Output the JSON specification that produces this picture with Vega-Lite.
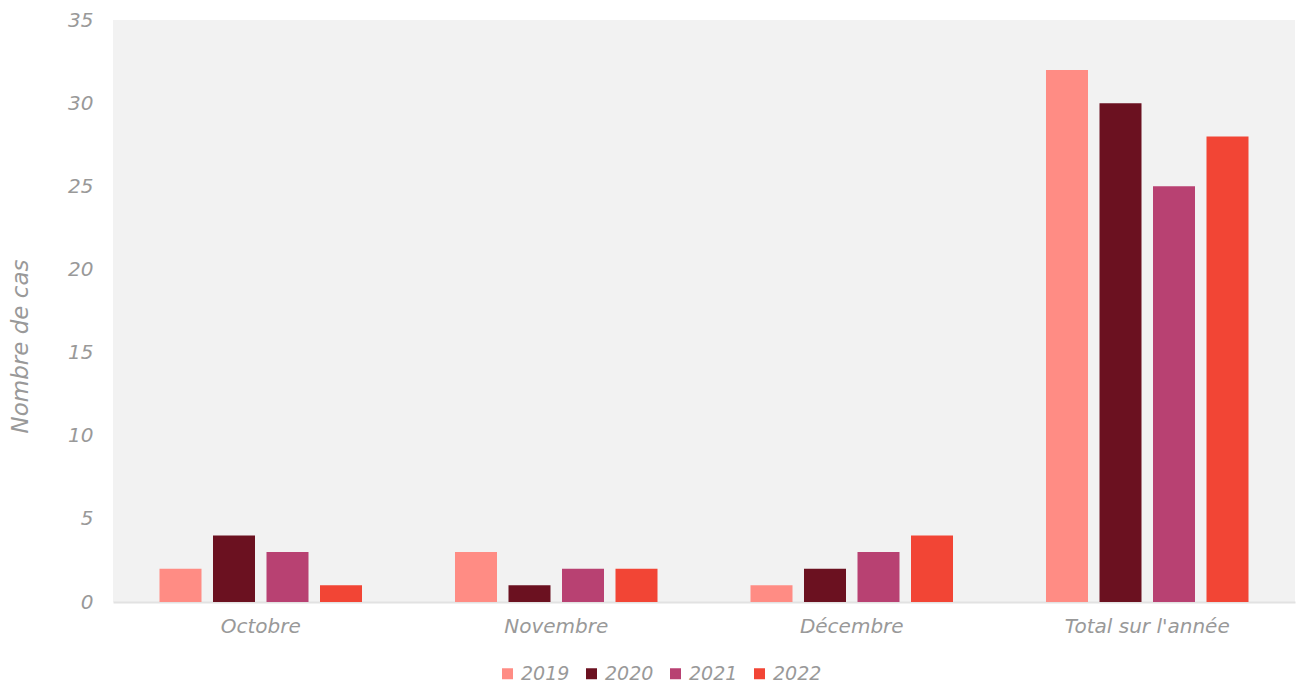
{
  "$schema": "https://vega.github.io/schema/vega-lite/v6.json",
  "width": 1182,
  "height": 582,
  "autosize": "none",
  "padding": {"left": 113, "top": 20, "right": 3, "bottom": 82},
  "background": "white",
  "config": {
    "view": {"fill": "#f2f2f2", "stroke": null},
    "font": "DejaVu Sans"
  },
  "data": {
    "values": [
      {"mois": "Octobre", "annee": "2019", "cas": 2},
      {"mois": "Octobre", "annee": "2020", "cas": 4},
      {"mois": "Octobre", "annee": "2021", "cas": 3},
      {"mois": "Octobre", "annee": "2022", "cas": 1},
      {"mois": "Novembre", "annee": "2019", "cas": 3},
      {"mois": "Novembre", "annee": "2020", "cas": 1},
      {"mois": "Novembre", "annee": "2021", "cas": 2},
      {"mois": "Novembre", "annee": "2022", "cas": 2},
      {"mois": "Décembre", "annee": "2019", "cas": 1},
      {"mois": "Décembre", "annee": "2020", "cas": 2},
      {"mois": "Décembre", "annee": "2021", "cas": 3},
      {"mois": "Décembre", "annee": "2022", "cas": 4},
      {"mois": "Total sur l'année", "annee": "2019", "cas": 32},
      {"mois": "Total sur l'année", "annee": "2020", "cas": 30},
      {"mois": "Total sur l'année", "annee": "2021", "cas": 25},
      {"mois": "Total sur l'année", "annee": "2022", "cas": 28}
    ]
  },
  "mark": {"type": "bar"},
  "encoding": {
    "x": {
      "field": "mois", "type": "nominal",
      "sort": ["Octobre", "Novembre", "Décembre", "Total sur l'année"],
      "scale": {"paddingInner": 0, "paddingOuter": 0},
      "axis": {
        "title": null, "labelAngle": 0, "ticks": false,
        "domainColor": "#e2e2e2", "domainWidth": 2,
        "labelFontSize": 20, "labelFontStyle": "italic", "labelColor": "#999999",
        "labelPadding": 14
      }
    },
    "xOffset": {
      "field": "annee", "type": "nominal",
      "scale": {"paddingInner": 0.215, "paddingOuter": 0.869}
    },
    "y": {
      "field": "cas", "type": "quantitative",
      "scale": {"domain": [0, 35]},
      "axis": {
        "title": "Nombre de cas", "values": [0, 5, 10, 15, 20, 25, 30, 35],
        "grid": false, "domain": false, "ticks": false,
        "labelFontSize": 20, "labelFontStyle": "italic", "labelColor": "#999999",
        "labelPadding": 20,
        "titleFontSize": 23, "titleFontStyle": "italic", "titleFontWeight": "normal",
        "titleColor": "#999999", "titleX": -93, "titleY": 326, "titleBaseline": "middle"
      }
    },
    "color": {
      "field": "annee", "type": "nominal",
      "scale": {"domain": ["2019", "2020", "2021", "2022"], "range": ["#ff8c84", "#6b1120", "#b84172", "#f24535"]},
      "legend": {
        "title": null, "orient": "none", "direction": "horizontal",
        "legendX": 385, "legendY": 644,
        "symbolType": "square", "symbolSize": 121, "symbolStrokeWidth": 0,
        "labelFontSize": 19, "labelFontStyle": "italic", "labelColor": "#999999",
        "labelOffset": 4, "columnPadding": 12
      }
    }
  }
}
